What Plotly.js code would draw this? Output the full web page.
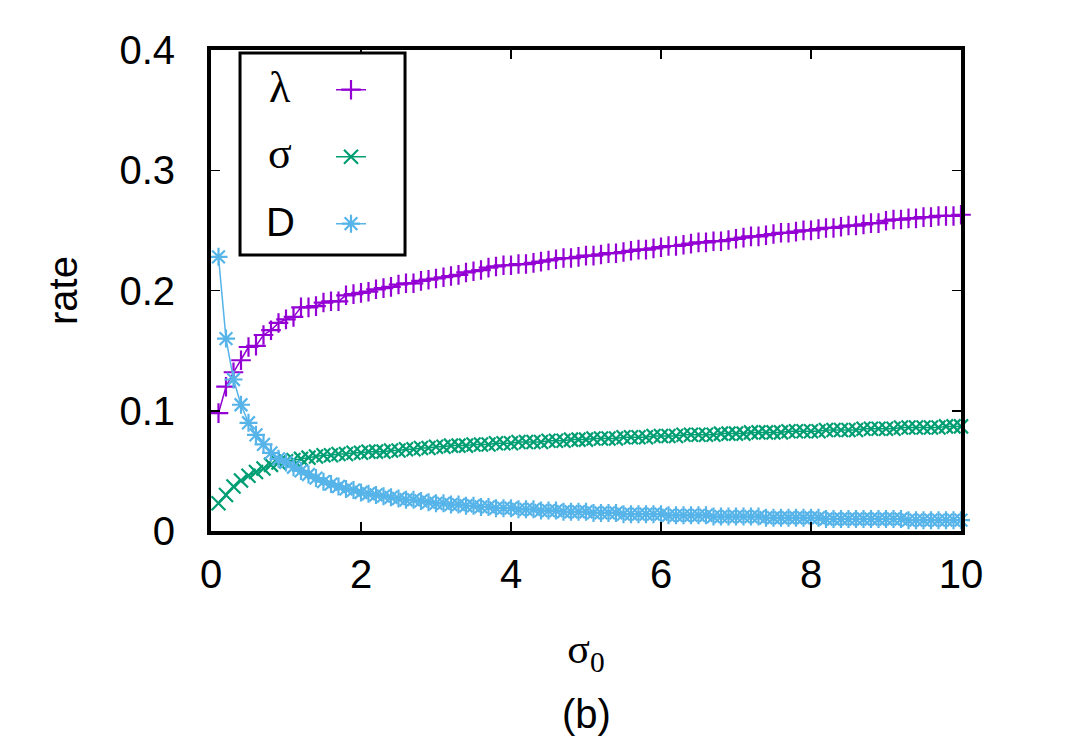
<!DOCTYPE html>
<html>
<head>
<meta charset="utf-8">
<script src="https://cdn.plot.ly/plotly-3.0.1.min.js"></script>
<style>
  html, body { margin: 0; padding: 0; background: #fff; }
  #App { width: 1080px; height: 756px; }
</style>
</head>
<body>
<div id="App"></div>
<script>
// sigma_0 grid (0.1 .. 10)
const sigma0 = [
  0.1, 0.2, 0.3, 0.4, 0.5, 0.6, 0.7, 0.8, 0.9, 1.0,
  1.1, 1.2, 1.3, 1.4, 1.5, 1.6, 1.7, 1.8, 1.9, 2.0,
  2.1, 2.2, 2.3, 2.4, 2.5, 2.6, 2.7, 2.8, 2.9, 3.0,
  3.1, 3.2, 3.3, 3.4, 3.5, 3.6, 3.7, 3.8, 3.9, 4.0,
  4.1, 4.2, 4.3, 4.4, 4.5, 4.6, 4.7, 4.8, 4.9, 5.0,
  5.1, 5.2, 5.3, 5.4, 5.5, 5.6, 5.7, 5.8, 5.9, 6.0,
  6.1, 6.2, 6.3, 6.4, 6.5, 6.6, 6.7, 6.8, 6.9, 7.0,
  7.1, 7.2, 7.3, 7.4, 7.5, 7.6, 7.7, 7.8, 7.9, 8.0,
  8.1, 8.2, 8.3, 8.4, 8.5, 8.6, 8.7, 8.8, 8.9, 9.0,
  9.1, 9.2, 9.3, 9.4, 9.5, 9.6, 9.7, 9.8, 9.9, 10.0
];

// lambda rate
const lambdaRate = [
  0.098, 0.120, 0.132, 0.142, 0.153, 0.154, 0.163, 0.167, 0.173, 0.176,
  0.178, 0.186, 0.186, 0.187, 0.190, 0.191, 0.191, 0.196, 0.197, 0.198,
  0.199, 0.201, 0.202, 0.203, 0.205, 0.206, 0.206, 0.208, 0.209, 0.210,
  0.211, 0.212, 0.213, 0.215, 0.216, 0.217, 0.219, 0.220, 0.221, 0.221,
  0.222, 0.222, 0.223, 0.224, 0.225, 0.226, 0.227, 0.227, 0.228, 0.229,
  0.229, 0.230, 0.231, 0.231, 0.232, 0.233, 0.234, 0.234, 0.235, 0.236,
  0.237, 0.237, 0.238, 0.239, 0.240, 0.240, 0.241, 0.241, 0.242, 0.243,
  0.244, 0.245, 0.245, 0.246, 0.247, 0.248, 0.248, 0.249, 0.250, 0.250,
  0.251, 0.252, 0.252, 0.253, 0.254, 0.254, 0.255, 0.256, 0.256, 0.258,
  0.259, 0.259, 0.260, 0.260, 0.261, 0.261, 0.262, 0.262, 0.262, 0.263
];

// sigma rate
const sigmaRate = [
  0.023, 0.030, 0.037, 0.042, 0.046, 0.049, 0.052, 0.055, 0.057, 0.058,
  0.059, 0.060, 0.061, 0.062, 0.063, 0.063, 0.064, 0.064, 0.065, 0.065,
  0.066, 0.066, 0.066, 0.067, 0.067, 0.068, 0.068, 0.069, 0.069, 0.070,
  0.070, 0.071, 0.071, 0.071, 0.072, 0.072, 0.072, 0.073, 0.073, 0.073,
  0.074, 0.074, 0.074, 0.074, 0.075, 0.075, 0.075, 0.076, 0.076, 0.076,
  0.077, 0.077, 0.077, 0.077, 0.078, 0.078, 0.078, 0.078, 0.079, 0.079,
  0.079, 0.079, 0.080, 0.080, 0.080, 0.080, 0.080, 0.081, 0.081, 0.081,
  0.081, 0.082, 0.082, 0.082, 0.082, 0.082, 0.083, 0.083, 0.083, 0.083,
  0.083, 0.084, 0.084, 0.084, 0.084, 0.084, 0.085, 0.085, 0.085, 0.085,
  0.085, 0.086, 0.086, 0.086, 0.086, 0.086, 0.086, 0.087, 0.087, 0.087
];

// D rate
const dRate = [
  0.228, 0.160, 0.126, 0.105, 0.090, 0.080, 0.072, 0.065, 0.060, 0.057,
  0.053, 0.050, 0.047, 0.044, 0.041, 0.039, 0.037, 0.035, 0.034, 0.032,
  0.031, 0.030, 0.029, 0.028, 0.027, 0.026, 0.026, 0.025, 0.024, 0.023,
  0.023, 0.022, 0.022, 0.021, 0.021, 0.020, 0.020, 0.019, 0.019, 0.019,
  0.018, 0.018, 0.018, 0.017, 0.017, 0.017, 0.016, 0.016, 0.016, 0.016,
  0.015, 0.015, 0.015, 0.015, 0.014, 0.014, 0.014, 0.014, 0.014, 0.014,
  0.013, 0.013, 0.013, 0.013, 0.013, 0.013, 0.012, 0.012, 0.012, 0.012,
  0.012, 0.012, 0.012, 0.011, 0.011, 0.011, 0.011, 0.011, 0.011, 0.011,
  0.011, 0.010, 0.010, 0.010, 0.010, 0.010, 0.010, 0.010, 0.010, 0.010,
  0.010, 0.010, 0.009, 0.009, 0.009, 0.009, 0.009, 0.009, 0.009, 0.009
];

const seriesNames = ["λ", "σ", "D"];
const seriesColors = ["#9400d3", "#009e73", "#56b4e9"];
const seriesSymbols = ["cross-thin-open", "x-thin-open", "asterisk-open"];
const seriesValues = [lambdaRate, sigmaRate, dRate];

const sans = "Liberation Sans, Arial, sans-serif";
const serif = "Liberation Serif, Times New Roman, serif";

// one trace per rate, gnuplot "linespoints" look
// legend entries carry only the sample, the labels are annotations on their left
const traces = seriesValues.map((vals, i) => ({
  type: "scatter",
  mode: "lines+markers",
  x: sigma0,
  y: vals,
  name: "",
  legendgroup: "g" + i,
  cliponaxis: false,
  line: { color: seriesColors[i], width: 1.5 },
  marker: {
    symbol: seriesSymbols[i],
    size: i === 2 ? 15 : 14,
    color: seriesColors[i],
    line: { color: seriesColors[i], width: 2.2 }
  }
}));

// legend label rows (paper y)
const legendRowsY = [0.923, 0.784, 0.642];

const labelAnnotations = seriesNames.map((t, i) => ({
  text: t,
  xref: "paper", yref: "paper",
  x: 0.092, y: legendRowsY[i],
  showarrow: false,
  font: { family: i === 2 ? sans : serif, size: i === 2 ? 40 : 44 },
  xanchor: "center", yanchor: "middle"
}));

const layout = {
  width: 1080,
  height: 756,
  margin: { l: 211, r: 119, t: 50, b: 225 },
  paper_bgcolor: "#fff",
  plot_bgcolor: "#fff",
  font: { family: sans, size: 40, color: "#000" },
  showlegend: true,
  legend: {
    x: 0.16,
    xanchor: "left",
    y: 0.985,
    yanchor: "top",
    bgcolor: "rgba(0,0,0,0)",
    borderwidth: 0,
    font: { family: sans, size: 40 },
    traceorder: "grouped",
    tracegroupgap: 12
  },
  xaxis: {
    range: [0, 10],
    tick0: 0,
    dtick: 2,
    ticks: "inside",
    ticklen: 9,
    tickwidth: 1.5,
    tickcolor: "#000",
    showline: true,
    linewidth: 4,
    linecolor: "#000",
    mirror: "ticks",
    showgrid: false,
    zeroline: false,
    ticklabelstandoff: 5,
    tickfont: { family: sans, size: 40 },
    title: {
      text: "σ<sub>0</sub>",
      font: { family: serif, size: 42 },
      standoff: 40
    }
  },
  yaxis: {
    range: [0, 0.4],
    tick0: 0,
    dtick: 0.1,
    ticks: "inside",
    ticklen: 9,
    tickwidth: 1.5,
    tickcolor: "#000",
    showline: true,
    linewidth: 4,
    linecolor: "#000",
    mirror: "ticks",
    showgrid: false,
    zeroline: false,
    ticklabelstandoff: 24,
    tickfont: { family: sans, size: 40 },
    title: {
      text: "rate",
      font: { family: sans, size: 40 },
      standoff: 30
    }
  },
  // legend frame
  shapes: [{
    type: "rect",
    xref: "paper", yref: "paper",
    x0: 0.0387, x1: 0.2587, y0: 0.5738, y1: 0.9938,
    layer: "above",
    fillcolor: "#fff",
    line: { color: "#000", width: 3 }
  }],
  annotations: labelAnnotations.concat([
    { text: "(b)", xref: "paper", yref: "paper", x: 0.5, y: -0.38, showarrow: false,
      font: { family: sans, size: 40 }, xanchor: "center", yanchor: "middle" }
  ])
};

const config = { displayModeBar: false, staticPlot: true };

Plotly.newPlot("App", traces, layout, config);
</script>
</body>
</html>
